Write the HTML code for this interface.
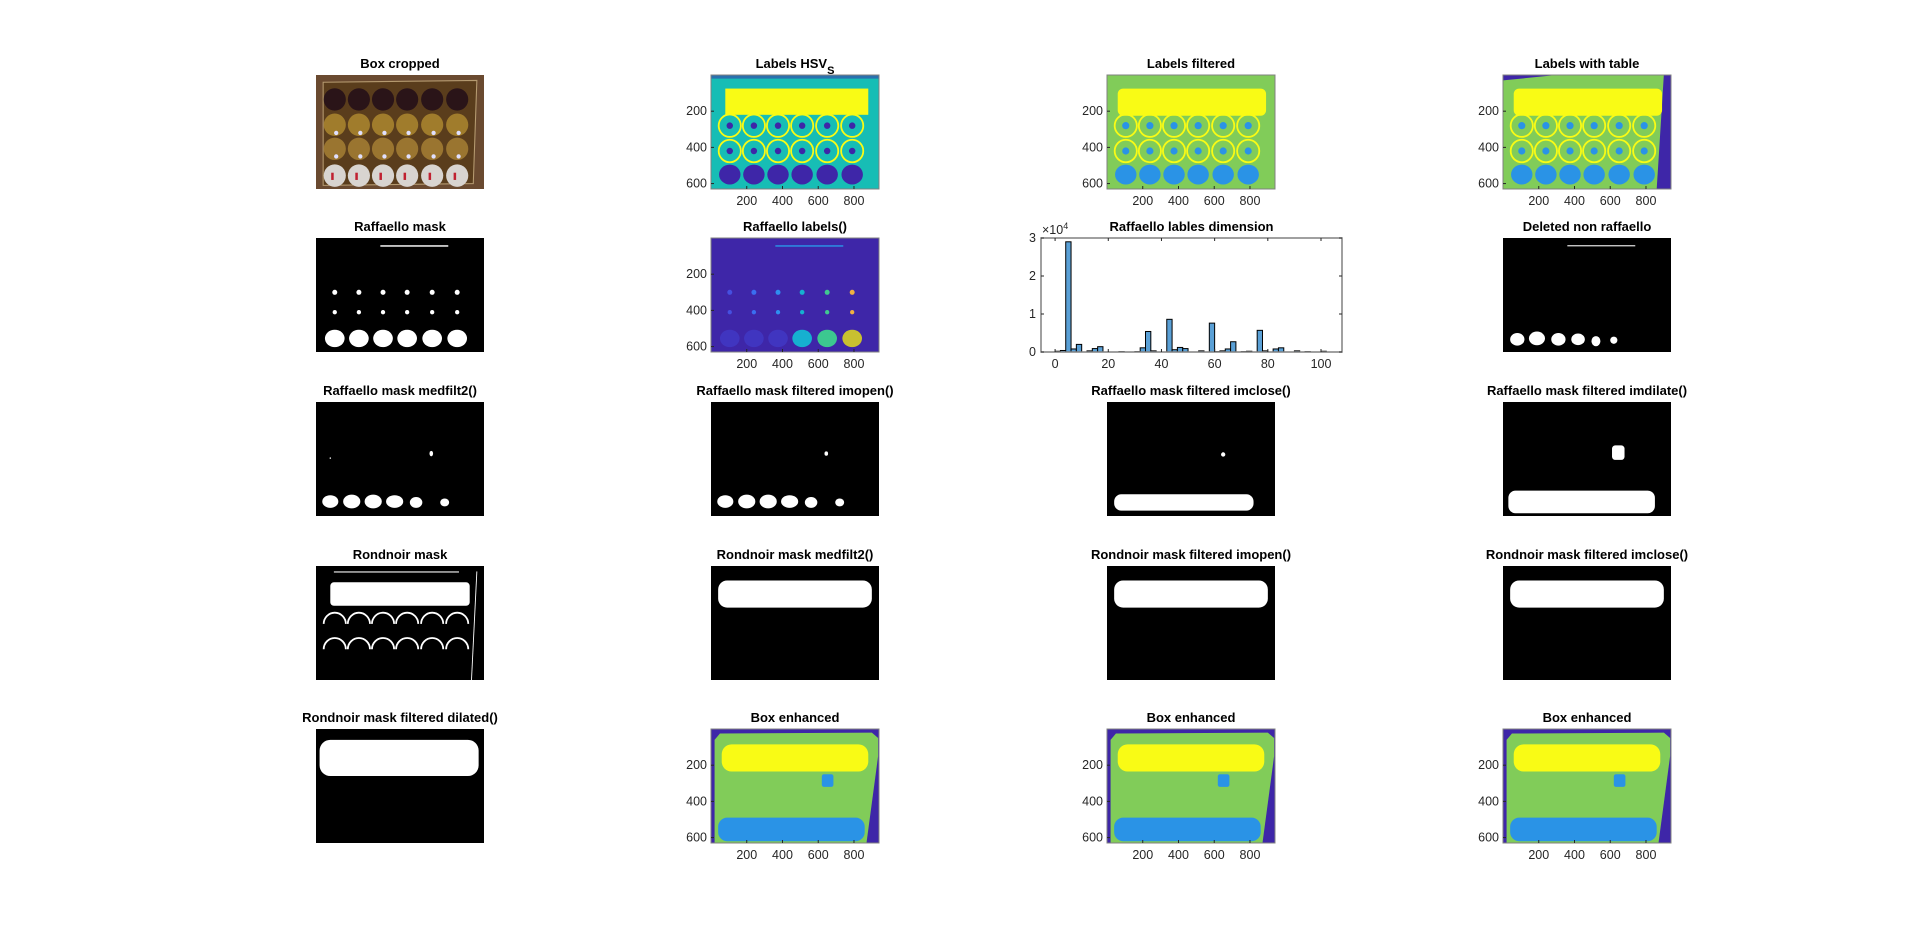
<!DOCTYPE html>
<html><head><meta charset="utf-8"><style>
html,body{margin:0;padding:0;background:#fff;width:1920px;height:946px;overflow:hidden}
svg text{font-family:"Liberation Sans",Arial,sans-serif}
.t{font-weight:bold;font-size:13px;fill:#000}
.k{font-size:12.5px;fill:#262626}
</style></head><body>
<svg id="fig" width="1920" height="946" xmlns="http://www.w3.org/2000/svg">
<defs>
<clipPath id="cimg"><rect x="0" y="0" width="940" height="630"/></clipPath>
</defs>
<g id="panels"></g>
<g id="hist"></g>
</svg>
<script>
// ---------- histogram data ----------
const binCenters=[1,3,5,7,9,13,15,17,25,31,33,35,37,43,45,47,49,55,59,61,63,65,67,71,73,77,79,83,85,91,95,101];
const binCounts=[200,400,29000,800,2000,300,900,1400,100,100,1100,5400,300,8600,600,1200,900,300,7600,100,300,800,2700,100,200,5700,300,800,1100,300,100,200];
const xTicks=[0,20,40,60,80,100];
const yTicks=[0,1,2,3];
const NS='http://www.w3.org/2000/svg';
function el(tag,attrs,parent){const e=document.createElementNS(NS,tag);for(const k in attrs)e.setAttribute(k,attrs[k]);if(parent)parent.appendChild(e);return e;}

const cols=[316,711,1107,1503], rows=[75,238,402,566,729], W=168, H=114;
const BL='#3E26A8',LB='#2A93E6',GR='#81CC59',YE='#F9FB15',TE='#17BDB5';
const panels=document.getElementById('panels');

// image-space helpers (940x630)
function blobs(g,list,fill){list.forEach(p=>el('ellipse',{cx:p[0],cy:p[1],rx:p[2],ry:p[3]||p[2],fill:fill},g));}
const cx6=[105,240,375,510,650,790];
const draw={
 box(g){el('rect',{x:0,y:0,width:940,height:630,fill:'#6a4a30'},g);
  el('polygon',{points:'40,40 900,30 880,600 40,610',fill:'#5a3d1c',stroke:'#b59a70','stroke-width':6},g);
  const ry=[135,275,408,556],cs=['#2a1418','#a07c2c','#9a7530','#d8d4d0'];
  ry.forEach((y,i)=>cx6.forEach(x=>el('circle',{cx:x,cy:y,r:62,fill:cs[i]},g)));
  cx6.forEach(x=>{el('rect',{x:x-20,y:540,width:14,height:40,fill:'#c02030'},g);el('circle',{cx:x+8,cy:320,r:12,fill:'#e0e0ff'},g);el('circle',{cx:x+8,cy:450,r:12,fill:'#e0e0ff'},g);});},
 hsv(g){el('rect',{x:0,y:0,width:940,height:630,fill:TE},g);
  el('rect',{x:80,y:75,width:800,height:145,fill:YE},g);
  [280,420].forEach(y=>cx6.forEach(x=>{el('circle',{cx:x,cy:y,r:62,fill:'none',stroke:YE,'stroke-width':10},g);el('circle',{cx:x,cy:y,r:18,fill:BL},g);}));
  cx6.forEach(x=>el('ellipse',{cx:x,cy:550,rx:60,ry:55,fill:BL},g));
  el('rect',{x:0,y:0,width:940,height:20,fill:BL,opacity:0.5},g);},
 filt(g,tri){el('rect',{x:0,y:0,width:940,height:630,fill:GR},g);
  if(tri){el('polygon',{points:'900,0 940,0 940,630 860,630',fill:BL},g);el('polygon',{points:'0,0 300,0 0,30',fill:BL},g);}
  el('rect',{x:60,y:75,width:830,height:150,fill:YE,rx:30},g);
  [280,420].forEach(y=>cx6.forEach(x=>{el('circle',{cx:x,cy:y,r:62,fill:'none',stroke:YE,'stroke-width':10},g);el('circle',{cx:x,cy:y,r:20,fill:LB},g);}));
  cx6.forEach(x=>el('ellipse',{cx:x,cy:550,rx:60,ry:55,fill:LB},g));},
 rmask(g){el('rect',{x:0,y:0,width:940,height:630,fill:'#000'},g);
  el('rect',{x:360,y:40,width:380,height:8,fill:'#fff'},g);
  blobs(g,cx6.map(x=>[x,300,14]),'#fff');blobs(g,cx6.map(x=>[x,410,12]),'#fff');
  blobs(g,cx6.map(x=>[x,555,55,48]),'#fff');},
 rlab(g){el('rect',{x:0,y:0,width:940,height:630,fill:BL},g);
  el('rect',{x:360,y:40,width:380,height:8,fill:LB},g);
  const c=['#4550e0','#3a6ef0','#2f8ef0','#16b0d0','#40c890','#f0b040'];
  cx6.forEach((x,i)=>{el('circle',{cx:x,cy:300,r:14,fill:c[i]},g);el('circle',{cx:x,cy:410,r:12,fill:c[i]},g);});
  const c2=['#4035c0','#4035c0','#4035c0','#16b0d0','#3cc890','#c8c030'];
  cx6.forEach((x,i)=>el('ellipse',{cx:x,cy:555,rx:55,ry:48,fill:c2[i]},g));},
 deleted(g){el('rect',{x:0,y:0,width:940,height:630,fill:'#000'},g);
  el('rect',{x:360,y:40,width:380,height:6,fill:'#fff'},g);
  blobs(g,[[80,560,40,35],[190,555,45,38],[310,560,40,35],[420,560,38,32],[520,570,25,28],[620,565,20,20]],'#fff');},
 med(g){el('rect',{x:0,y:0,width:940,height:630,fill:'#000'},g);
  blobs(g,[[80,550,45,35],[200,550,48,38],[320,550,48,38],[440,550,48,35],[560,555,35,30],[720,555,25,22],[645,285,10,15],[80,310,4,4]],'#fff');},
 open(g){el('rect',{x:0,y:0,width:940,height:630,fill:'#000'},g);
  blobs(g,[[80,550,45,35],[200,550,48,38],[320,550,48,38],[440,550,48,35],[560,555,35,30],[720,555,25,22],[645,285,10,12]],'#fff');},
 close(g){el('rect',{x:0,y:0,width:940,height:630,fill:'#000'},g);
  el('rect',{x:40,y:510,width:780,height:90,rx:40,fill:'#fff'},g);el('circle',{cx:650,cy:290,r:12,fill:'#fff'},g);},
 dilate(g){el('rect',{x:0,y:0,width:940,height:630,fill:'#000'},g);
  el('rect',{x:30,y:490,width:820,height:125,rx:40,fill:'#fff'},g);el('rect',{x:610,y:240,width:70,height:80,rx:18,fill:'#fff'},g);},
 rond(g){el('rect',{x:0,y:0,width:940,height:630,fill:'#000'},g);
  el('rect',{x:80,y:90,width:780,height:130,rx:20,fill:'#fff'},g);
  [280,420].forEach(y=>cx6.forEach(x=>el('path',{d:`M${x-62},${y+40} A62,62 0 0 1 ${x+62},${y+40}`,fill:'none',stroke:'#fff','stroke-width':10},g)));
  el('line',{x1:900,y1:30,x2:870,y2:630,stroke:'#fff','stroke-width':5},g);
  el('rect',{x:100,y:30,width:700,height:6,fill:'#fff'},g);},
 band(g){el('rect',{x:0,y:0,width:940,height:630,fill:'#000'},g);
  el('rect',{x:40,y:80,width:860,height:150,rx:50,fill:'#fff'},g);},
 band2(g){el('rect',{x:0,y:0,width:940,height:630,fill:'#000'},g);
  el('rect',{x:20,y:60,width:890,height:200,rx:60,fill:'#fff'},g);},
 enh(g){el('rect',{x:0,y:0,width:940,height:630,fill:BL},g);
  el('polygon',{points:'20,60 50,25 900,20 935,50 935,150 870,630 20,630',fill:GR},g);
  el('rect',{x:60,y:85,width:820,height:150,rx:55,fill:YE},g);
  el('rect',{x:620,y:250,width:65,height:70,rx:12,fill:LB},g);
  el('rect',{x:40,y:490,width:820,height:130,rx:50,fill:LB},g);}
};
const spec=[
 [0,0,'Box cropped','box',false],[1,0,'Labels HSV','hsv',true],[2,0,'Labels filtered','filt',true],[3,0,'Labels with table','filtT',true],
 [0,1,'Raffaello mask','rmask',false],[1,1,'Raffaello labels()','rlab',true],[3,1,'Deleted non raffaello','deleted',false],
 [0,2,'Raffaello mask medfilt2()','med',false],[1,2,'Raffaello mask filtered imopen()','open',false],[2,2,'Raffaello mask filtered imclose()','close',false],[3,2,'Raffaello mask filtered imdilate()','dilate',false],
 [0,3,'Rondnoir mask','rond',false],[1,3,'Rondnoir mask medfilt2()','band',false],[2,3,'Rondnoir mask filtered imopen()','band',false],[3,3,'Rondnoir mask filtered imclose()','band',false],
 [0,4,'Rondnoir mask filtered dilated()','band2',false],[1,4,'Box enhanced','enh',true],[2,4,'Box enhanced','enh',true],[3,4,'Box enhanced','enh',true]
];
spec.forEach(s=>{
 const x=cols[s[0]],y=rows[s[1]];
 const g=el('g',{},panels);
 
 
 const t=el('text',{x:x+W/2,y:y-7,'text-anchor':'middle',class:'t'},g);
 t.textContent=s[2];
 if(s[3]==='hsv'){const ts=el('tspan',{'baseline-shift':'sub','font-size':'11px'},t);ts.textContent='S';}
 
 
 const img=el('svg',{x:x,y:y,width:W,height:H,viewBox:'0 0 940 630',preserveAspectRatio:'none'},g);
 
 
 if(s[3]==='filtT')draw.filt(img,true);else if(s[3]==='filt')draw.filt(img,false);else draw[s[3]](img);
 if(s[4]){
  el('rect',{x:x,y:y,width:W,height:H,fill:'none',stroke:'#808080','stroke-width':1},g);
  [200,400,600].forEach(v=>{const yy=y+v/630*H;el('line',{x1:x,x2:x+3,y1:yy,y2:yy,stroke:'#262626'},g);const l=el('text',{x:x-4,y:yy+4,'text-anchor':'end',class:'k'},g);l.textContent=v;});
  [200,400,600,800].forEach(v=>{const xx=x+v/940*W;el('line',{x1:xx,x2:xx,y1:y+H,y2:y+H-3,stroke:'#262626'},g);const l=el('text',{x:xx,y:y+H+16,'text-anchor':'middle',class:'k'},g);l.textContent=v;});
 }
});

// ---------- histogram ----------
const hg=document.getElementById('hist');
const L=1041,R=1342,T=238,B=352,xmin=-5.3,xmax=107.9,ymax=30000;
const sx=v=>L+(v-xmin)/(xmax-xmin)*(R-L), sy=v=>B-v/ymax*(B-T);
const ht=el('text',{x:(L+R)/2,y:T-7,'text-anchor':'middle',class:'t'},hg);ht.textContent='Raffaello lables dimension';
binCenters.forEach((c,i)=>{
 const r=el('rect',{x:sx(c-1),y:sy(binCounts[i]),width:sx(c+1)-sx(c-1),height:B-sy(binCounts[i]),fill:'#5AA0D6',stroke:'#000','stroke-width':1},hg);
 
 
});
el('rect',{x:L,y:T,width:R-L,height:B-T,fill:'none',stroke:'#808080','stroke-width':1.5},hg);
xTicks.forEach(v=>{const xx=sx(v);el('line',{x1:xx,x2:xx,y1:B,y2:B-3,stroke:'#262626'},hg);el('line',{x1:xx,x2:xx,y1:T,y2:T+3,stroke:'#262626'},hg);const l=el('text',{x:xx,y:B+16,'text-anchor':'middle',class:'k'},hg);l.textContent=v;});
yTicks.forEach(v=>{const yy=sy(v*10000);el('line',{x1:L,x2:L+3,y1:yy,y2:yy,stroke:'#262626'},hg);el('line',{x1:R,x2:R-3,y1:yy,y2:yy,stroke:'#262626'},hg);const l=el('text',{x:L-5,y:yy+4,'text-anchor':'end',class:'k'},hg);l.textContent=v;});
const ex=el('text',{x:L+1,y:T-4,class:'k',fill:'#808080'},hg);ex.textContent='×10';
const ex2=el('tspan',{'baseline-shift':'super','font-size':'9px'},ex);ex2.textContent='4';
</script>
</body></html>
